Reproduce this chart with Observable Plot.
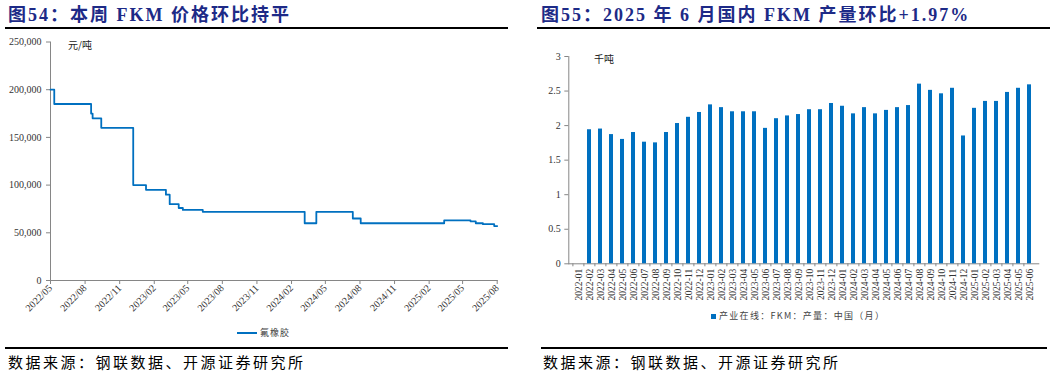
<!DOCTYPE html>
<html><head><meta charset="utf-8">
<script src="https://cdn.jsdelivr.net/npm/d3@7"></script>
<script src="https://cdn.jsdelivr.net/npm/@observablehq/plot@0.6"></script>
<style>
body{margin:0;background:#fff;width:1057px;height:374px;position:relative;overflow:hidden;font-family:"Liberation Serif","Noto Sans CJK SC",serif;}
.abs{position:absolute;}
.title{font-weight:bold;color:#1d2a87;font-size:18px;letter-spacing:2px;white-space:nowrap;line-height:18px;}
.hr{height:2px;background:#000;}
.foot{font-size:15px;letter-spacing:2.5px;color:#000;white-space:nowrap;line-height:15px;font-family:"Noto Sans CJK SC";}
.unit{font-size:10px;color:#222;white-space:nowrap;line-height:10px;font-family:"Noto Sans CJK SC";}
.leg{font-size:9px;color:#444;white-space:nowrap;line-height:10px;letter-spacing:1px;font-family:"Noto Sans CJK SC";}
</style></head><body>
<div class="abs title" style="left:8px;top:6px;">图54：本周 FKM 价格环比持平</div>
<div class="abs hr" style="left:5px;top:27px;width:503px;"></div>
<div class="abs title" style="left:541px;top:6px;">图55：2025 年 6 月国内 FKM 产量环比+1.97%</div>
<div class="abs hr" style="left:537px;top:27px;width:513px;"></div>
<div id="left" class="abs" style="left:0;top:30px;"></div>
<div id="right" class="abs" style="left:530px;top:30px;"></div>
<div class="abs unit" style="left:68px;top:40px;">元/吨</div>
<div class="abs unit" style="left:594px;top:54px;">千吨</div>
<div class="abs" style="left:237px;top:332px;width:20px;height:2px;background:#0070C0;"></div>
<div class="abs leg" style="left:260px;top:328px;">氟橡胶</div>
<div class="abs" style="left:711px;top:314px;width:5px;height:5px;background:#0070C0;"></div>
<div class="abs leg" style="left:719px;top:311px;letter-spacing:1.3px;">产业在线：FKM：产量：中国（月）</div>
<div class="abs" style="left:5px;top:347px;width:503px;height:1.5px;background:#000;"></div>
<div class="abs" style="left:541px;top:347px;width:506px;height:1.5px;background:#000;"></div>
<div class="abs foot" style="left:8px;top:354px;">数据来源：钢联数据、开源证券研究所</div>
<div class="abs foot" style="left:543px;top:354px;">数据来源：钢联数据、开源证券研究所</div>
<script>
// ---- Left chart data: FKM price (元/吨), step series ----
const priceDates = ["2022-05-01","2022-05-11","2022-08-17","2022-08-21","2022-09-13","2022-12-07","2023-01-10","2023-03-04","2023-03-14","2023-04-07","2023-04-18","2023-06-10","2024-03-07","2024-04-07","2024-07-13","2024-08-03","2025-03-13","2025-05-22","2025-06-05","2025-06-24","2025-07-24","2025-08-01"];
const priceValues = [200000,185000,175000,170000,160000,100000,95000,90000,80000,76000,74000,72000,60000,72000,65000,60000,63000,62000,60000,59000,57000,57000];
const priceXTickLabels = ["2022/05","2022/08","2022/11","2023/02","2023/05","2023/08","2023/11","2024/02","2024/05","2024/08","2024/11","2025/02","2025/05","2025/08"];
const priceYTicks = [0,50000,100000,150000,200000,250000];
const priceSeriesName = "氟橡胶";

// ---- Right chart data: FKM monthly output (千吨) ----
const prodMonths = ["2022-01","2022-02","2022-03","2022-04","2022-05","2022-06","2022-07","2022-08","2022-09","2022-10","2022-11","2022-12",
"2023-01","2023-02","2023-03","2023-04","2023-05","2023-06","2023-07","2023-08","2023-09","2023-10","2023-11","2023-12",
"2024-01","2024-02","2024-03","2024-04","2024-05","2024-06","2024-07","2024-08","2024-09","2024-10","2024-11","2024-12",
"2025-01","2025-02","2025-03","2025-04","2025-05","2025-06"];
const prodValues = [null,1.94,1.95,1.87,1.80,1.90,1.76,1.75,1.90,2.03,2.12,2.19,
2.30,2.26,2.20,2.20,2.20,1.96,2.10,2.14,2.16,2.23,2.23,2.32,
2.28,2.17,2.26,2.17,2.22,2.26,2.29,2.60,2.51,2.46,2.54,1.85,
2.25,2.35,2.35,2.48,2.54,2.59];
const prodYTicks = [0,0.5,1,1.5,2,2.5,3];

const blue = "#0070C0";
const axisGray = "#868686";
const tickText = "#333";
const serif = "'Liberation Serif', serif";

// ---- Left chart ----
const parseDay = d3.utcParse("%Y-%m-%d");
const parseTick = d3.utcParse("%Y/%m");
const priceData = priceDates.map((d, i) => ({date: parseDay(d), value: priceValues[i]}));
const priceTicks = priceXTickLabels.map(parseTick);

const left = Plot.plot({
  width: 520, height: 295,
  marginLeft: 50, marginRight: 23.3, marginTop: 11.5, marginBottom: 45,
  style: {fontFamily: serif, fontSize: "10px", color: tickText, background: "transparent", overflow: "visible"},
  x: {type: "utc", domain: [priceTicks[0], priceTicks[priceTicks.length - 1]]},
  y: {domain: [0, 250000]},
  marks: [
    Plot.frame({anchor: "left", stroke: axisGray}),
    Plot.frame({anchor: "bottom", stroke: axisGray}),
    Plot.axisY({ticks: priceYTicks, tickSize: 4, tickPadding: 5, stroke: axisGray, fill: tickText, tickFormat: d3.format(","), label: null}),
    Plot.axisX({ticks: priceTicks, tickSize: 4, tickPadding: 2, tickRotate: -45, stroke: axisGray, fill: tickText, tickFormat: d3.utcFormat("%Y/%m"), label: null}),
    Plot.line(priceData, {x: "date", y: "value", curve: "step-after", stroke: blue, strokeWidth: 1.8})
  ]
});
document.getElementById("left").appendChild(left);

// ---- Right chart ----
const prodData = prodMonths.map((m, i) => ({month: m, value: prodValues[i]})).filter(d => d.value != null);
const rW = 527, rML = 38.3, rMR = 18.7;
const halfStep = (rW - rML - rMR) / prodMonths.length / 2;
const right = Plot.plot({
  width: rW, height: 280,
  marginLeft: rML, marginRight: rMR, marginTop: 26, marginBottom: 46.7,
  style: {fontFamily: serif, fontSize: "9.5px", color: tickText, background: "transparent", overflow: "visible"},
  x: {type: "band", domain: prodMonths, paddingInner: 0.6, paddingOuter: 0.3},
  y: {domain: [0, 3]},
  marks: [
    Plot.frame({anchor: "left", stroke: axisGray}),
    Plot.frame({anchor: "bottom", stroke: axisGray}),
    Plot.axisY({ticks: prodYTicks, tickSize: 4, tickPadding: 4, stroke: axisGray, fill: tickText, fontSize: 10, tickFormat: d => String(d), label: null}),
    Plot.axisX({tickSize: 3, text: null, stroke: axisGray, dx: -halfStep, label: null}),
    Plot.axisX({tickSize: 0, tickPadding: 5, tickRotate: -90, fill: tickText, label: null}),
    Plot.barY(prodData, {x: "month", y: "value", fill: blue})
  ]
});
document.getElementById("right").appendChild(right);
</script>
</body></html>
